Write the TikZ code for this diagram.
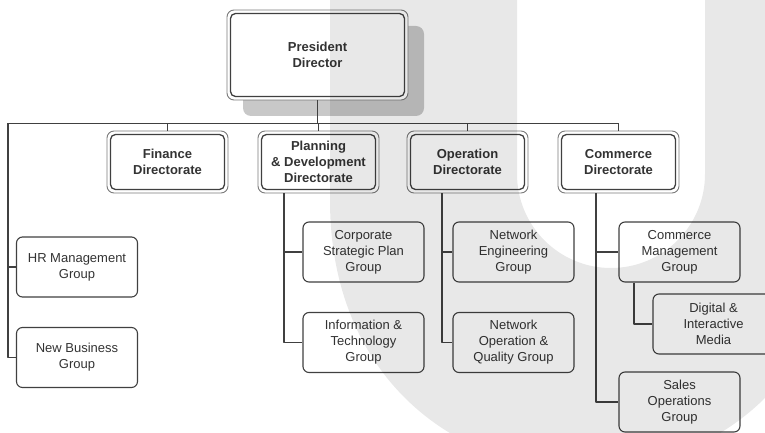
\documentclass[tikz,border=0pt]{standalone}
\usepackage{fontspec}
\setmainfont{Liberation Sans}
\definecolor{linegray}{HTML}{404040}
\definecolor{rimgray}{HTML}{7A7A7A}
\definecolor{textgray}{HTML}{333333}
\definecolor{shadegray}{HTML}{C8C8C8}

\begin{document}
\begin{tikzpicture}[x=1pt, y=-1pt, line join=round,
    font=\fontsize{13}{16}\selectfont,
    head node/.style={draw=rimgray, line width=0.9pt, rounded corners=7pt, fill=white,
      minimum width=121pt, minimum height=62pt, inner sep=0pt, align=center,
      font=\fontsize{13}{16}\selectfont\bfseries, text=textgray,
      path picture={\draw[linegray, line width=1.3pt, rounded corners=5pt]
        ([xshift=3.5pt,yshift=-3.5pt]path picture bounding box.north west) rectangle
        ([xshift=-3.5pt,yshift=3.5pt]path picture bounding box.south east);}},
    group node/.style={draw=linegray, line width=1.1pt, rounded corners=6pt, fill=white,
      minimum width=121pt, minimum height=60pt, inner sep=0pt, align=center, text=textgray},
    link/.style={draw=linegray, line width=1.2pt}]

  \useasboundingbox (0,0) rectangle (765,433);

  % president and directorates
  \fill[shadegray, rounded corners=8pt] (243,26) rectangle (424,116);
  \node[head node, minimum width=181pt, minimum height=90pt] (pres) at (317.5,55) {President\\Director};
  \node[head node] (fin)  at (167.5,162) {Finance\\Directorate};
  \node[head node] (plan) at (318.5,162) {Planning\\\& Development\\Directorate};
  \node[head node] (oper) at (467.5,162) {Operation\\Directorate};
  \node[head node] (comm) at (618.5,162) {Commerce\\Directorate};

  % groups
  \node[group node] (hr)      at (77,267)      {HR Management\\Group};
  \node[group node] (newbiz)  at (77,357.5)    {New Business\\Group};
  \node[group node] (corp)    at (363.5,252)   {Corporate\\Strategic Plan\\Group};
  \node[group node] (info)    at (363.5,342.5) {Information \&\\Technology\\Group};
  \node[group node] (neteng)  at (513.5,252)   {Network\\Engineering\\Group};
  \node[group node] (netop)   at (513.5,342.5) {Network\\Operation \&\\Quality Group};
  \node[group node] (cmgmt)   at (679.5,252)   {Commerce\\Management\\Group};
  \node[group node] (digital) at (713.5,324)   {Digital \&\\Interactive\\Media};
  \node[group node] (sales)   at (679.5,402)   {Sales\\Operations\\Group};

  \coordinate (busL) at (8,123.5);
  \draw[link] (busL) -- (comm.north |- busL);
  \draw[link] (pres.south) -- (pres.south |- busL);
  \foreach \d in {fin,plan,oper,comm}
    \draw[link] (\d.north) -- (\d.north |- busL);

  \draw[link] (busL) |- (hr.west);
  \draw[link] (busL) |- (newbiz.west);
  \draw[link] ([xshift=-34.5pt]plan.south) |- (corp.west);
  \draw[link] ([xshift=-34.5pt]plan.south) |- (info.west);
  \draw[link] ([xshift=-25.5pt]oper.south) |- (neteng.west);
  \draw[link] ([xshift=-25.5pt]oper.south) |- (netop.west);
  \draw[link] ([xshift=-22.5pt]comm.south) |- (cmgmt.west);
  \draw[link] ([xshift=-22.5pt]comm.south) |- (sales.west);
  \draw[link] ([xshift=-45.5pt]cmgmt.south) |- (digital.west);

  % watermark
  \fill[black, fill opacity=0.09, even odd rule]
    (330,-5) -- (330,200) .. controls (330,560) and (840,560) .. (840,200) -- (840,-5) -- cycle
    (517,-5) -- (517,174) arc[start angle=180, end angle=0, radius=94] -- (705,-5) -- cycle;
\end{tikzpicture}
\end{document}
